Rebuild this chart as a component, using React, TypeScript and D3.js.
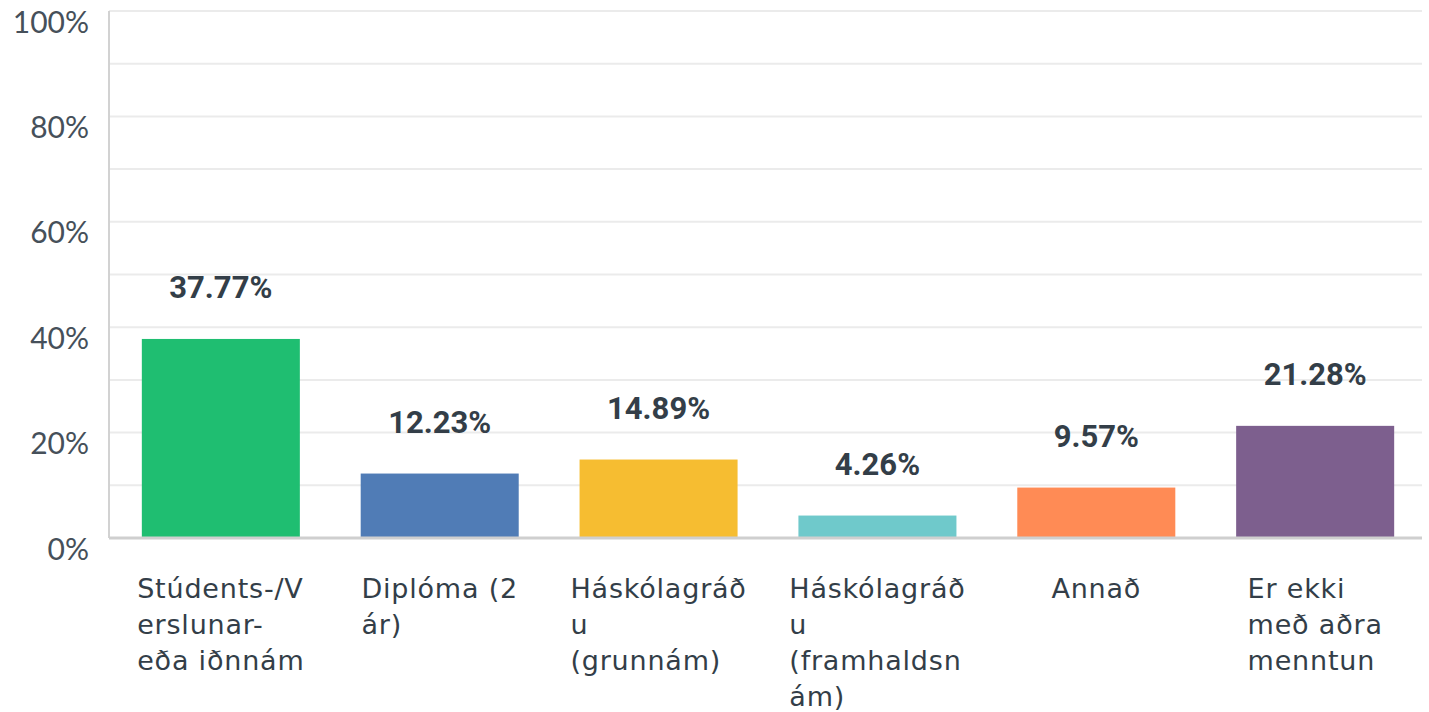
import React, { useEffect, useRef } from 'react';
import * as d3 from 'd3';

const categories = ['stud', 'dipl', 'grunn', 'framh', 'annad', 'ekki'];
const categoryLines = [
  ['Stúdents-/V', 'erslunar-', 'eða iðnnám'],
  ['Diplóma (2', 'ár)'],
  ['Háskólagráð', 'u', '(grunnám)'],
  ['Háskólagráð', 'u', '(framhaldsn', 'ám)'],
  ['Annað'],
  ['Er ekki', 'með aðra', 'menntun'],
];
const values = [37.77, 12.23, 14.89, 4.26, 9.57, 21.28];
const colors = ['#1fbe71', '#507cb6', '#f6bd31', '#6fc9cb', '#ff8b55', '#7d5f8e'];
const yTicks = [0, 20, 40, 60, 80, 100];
const gridTicks = [10, 20, 30, 40, 50, 60, 70, 80, 90, 100];

const W = 1429;
const H = 712;
const margin = { top: 11, right: 7, bottom: 174, left: 109 };

const App = () => {
  const ref = useRef<SVGSVGElement | null>(null);

  useEffect(() => {
    document.body.style.margin = '0';
    const svg = d3.select(ref.current);
    svg.selectAll('*').remove();

    const x = d3.scaleBand<string>()
      .domain(categories)
      .range([margin.left, 1427])
      .paddingInner(0.278)
      .paddingOuter(0.15);

    const y = d3.scaleLinear()
      .domain([0, 100])
      .range([H - margin.bottom, margin.top]);

    // gridlines
    svg.append('g')
      .selectAll('line')
      .data(gridTicks)
      .join('line')
      .attr('x1', margin.left)
      .attr('x2', W - margin.right)
      .attr('y1', d => y(d))
      .attr('y2', d => y(d))
      .attr('stroke', '#ebebeb')
      .attr('stroke-width', 2);

    // y axis line
    svg.append('line')
      .attr('x1', margin.left)
      .attr('x2', margin.left)
      .attr('y1', y(100))
      .attr('y2', y(0))
      .attr('stroke', '#d2d2d2')
      .attr('stroke-width', 2);

    // y tick labels
    svg.append('g')
      .selectAll('text')
      .data(yTicks)
      .join('text')
      .attr('x', 89)
      .attr('y', d => y(d) + 11)
      .attr('dy', '0.35em')
      .attr('text-anchor', 'end')
      .attr('font-family', 'Lato, "Open Sans", sans-serif')
      .attr('font-size', 30)
      .attr('fill', '#46505a')
      .text(d => `${d}%`);

    // bars
    svg.append('g')
      .selectAll('rect')
      .data(values)
      .join('rect')
      .attr('x', (_, i) => x(categories[i]) ?? 0)
      .attr('width', x.bandwidth())
      .attr('y', d => y(d))
      .attr('height', d => y(0) - y(d))
      .attr('fill', (_, i) => colors[i]);

    // x axis line
    svg.append('line')
      .attr('x1', margin.left)
      .attr('x2', W - margin.right)
      .attr('y1', y(0))
      .attr('y2', y(0))
      .attr('stroke', '#cfcfcf')
      .attr('stroke-width', 3);

    // value labels
    svg.append('g')
      .selectAll('text')
      .data(values)
      .join('text')
      .attr('x', (_, i) => (x(categories[i]) ?? 0) + x.bandwidth() / 2)
      .attr('y', d => y(d) - 41)
      .attr('text-anchor', 'middle')
      .attr('font-family', 'Roboto, sans-serif')
      .attr('font-weight', 700)
      .attr('font-size', 31)
      .attr('fill', '#333e48')
      .text(d => `${d.toFixed(2)}%`);

    // category labels: left-aligned block, centred under the bar
    const cat = svg.append('g')
      .selectAll('g')
      .data(categoryLines)
      .join('g');

    cat.each(function (lines, i) {
      const g = d3.select(this);
      const t = g.append('text')
        .attr('font-family', '"DejaVu Sans", sans-serif')
        .attr('font-size', 27)
        .attr('letter-spacing', 0.8)
        .attr('fill', '#333e48');
      lines.forEach((line, j) => {
        t.append('tspan')
          .attr('x', 0)
          .attr('y', y(0) + 60 + j * 36)
          .text(line);
      });
      const bw = (t.node() as SVGTextElement).getBBox().width;
      const cx = (x(categories[i]) ?? 0) + x.bandwidth() / 2;
      g.attr('transform', `translate(${cx - bw / 2},0)`);
    });
  }, []);

  return (
    <svg
      ref={ref}
      width={W}
      height={H}
      style={{ display: 'block', background: '#fff' }}
    />
  );
};

export default App;
